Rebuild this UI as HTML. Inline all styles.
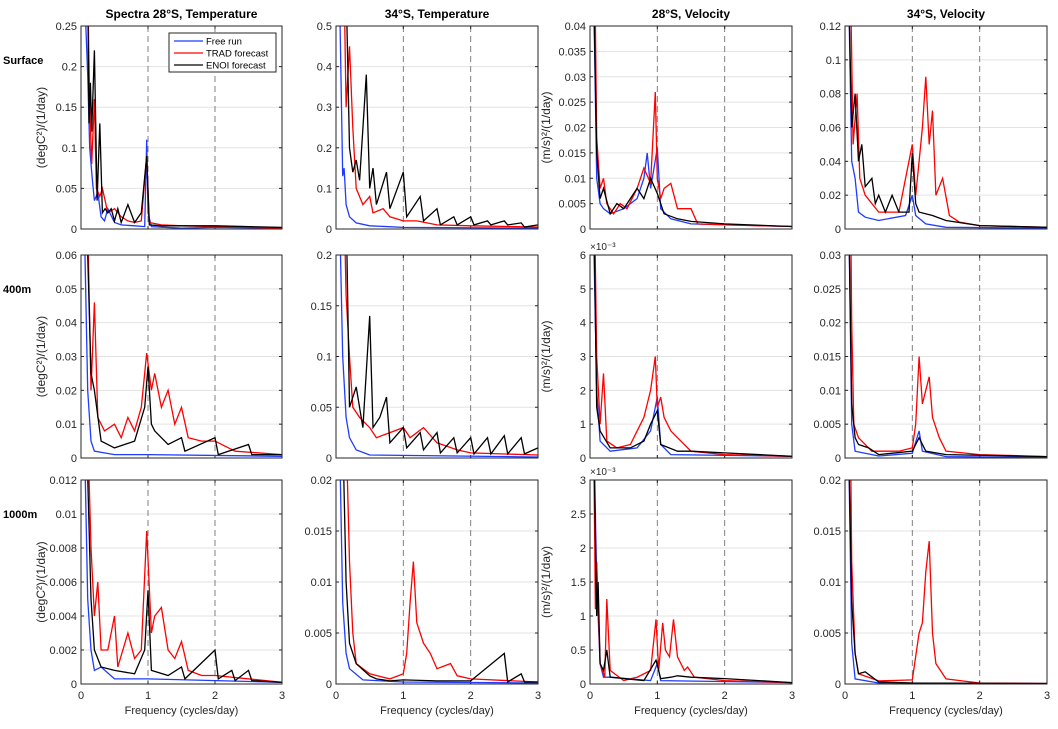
<!DOCTYPE html>
<html><head><meta charset="utf-8"><style>
body{margin:0;background:#fff;width:1058px;height:724px;overflow:hidden}
svg{font-family:"Liberation Sans",sans-serif}
</style></head><body>
<svg id="fig" width="1058" height="724" viewBox="0 0 1058 724" xmlns="http://www.w3.org/2000/svg"></svg>
<script>
// ---- data (frequency, spectral density) pairs per panel ----
const titles=["Spectra 28\u00B0S, Temperature","34\u00B0S, Temperature","28\u00B0S, Velocity","34\u00B0S, Velocity"];
const rowLabels=["Surface","400m","1000m"];
const xTicks=[0,1,2,3];
const yMaxes=[[0.25,0.5,0.04,0.12],[0.06,0.2,0.006,0.03],[0.012,0.02,0.003,0.02]];
const yTickLabels=[
 [["0","0.05","0.1","0.15","0.2","0.25"],["0","0.1","0.2","0.3","0.4","0.5"],["0","0.005","0.01","0.015","0.02","0.025","0.03","0.035","0.04"],["0","0.02","0.04","0.06","0.08","0.1","0.12"]],
 [["0","0.01","0.02","0.03","0.04","0.05","0.06"],["0","0.05","0.1","0.15","0.2"],["0","1","2","3","4","5","6"],["0","0.005","0.01","0.015","0.02","0.025","0.03"]],
 [["0","0.002","0.004","0.006","0.008","0.01","0.012"],["0","0.005","0.01","0.015","0.02"],["0","0.5","1","1.5","2","2.5","3"],["0","0.005","0.01","0.015","0.02"]]
];
const yLabels=["(degC\u00B2)/(1/day)",null,"(m/s)\u00B2/(1/day)",null];
const freeRun=[
 [[[0.05,0.3],[0.1,0.19],[0.13,0.1],[0.17,0.06],[0.2,0.035],[0.25,0.045],[0.3,0.015],[0.35,0.01],[0.4,0.025],[0.5,0.008],[0.6,0.005],[0.8,0.004],[0.95,0.003],[0.98,0.11],[1.0,0.02],[1.05,0.003],[1.5,0.001],[2,0.002],[3,0.001]],
  [[0.05,0.6],[0.1,0.13],[0.12,0.15],[0.15,0.06],[0.2,0.03],[0.3,0.015],[0.5,0.008],[1,0.004],[3,0.002]],
  [[0.05,0.05],[0.1,0.01],[0.15,0.005],[0.2,0.004],[0.3,0.003],[0.5,0.004],[0.7,0.006],[0.8,0.01],[0.85,0.015],[0.9,0.008],[0.95,0.012],[1.0,0.016],[1.05,0.004],[1.2,0.002],[1.5,0.001],[3,0.0005]],
  [[0.05,0.15],[0.1,0.04],[0.15,0.03],[0.2,0.01],[0.3,0.007],[0.5,0.005],[0.9,0.008],[1.0,0.02],[1.05,0.008],[1.2,0.003],[1.5,0.001],[3,0.0005]]],
 [[[0.05,0.07],[0.1,0.02],[0.15,0.005],[0.2,0.002],[0.5,0.001],[1,0.001],[3,0.0005]],
  [[0.05,0.25],[0.1,0.1],[0.15,0.04],[0.2,0.02],[0.3,0.008],[0.5,0.003],[3,0.001]],
  [[0.05,0.007],[0.1,0.002],[0.15,0.0005],[0.3,0.0002],[0.7,0.0003],[0.9,0.0008],[1.0,0.0018],[1.05,0.0004],[1.2,0.0001],[3,0.00005]],
  [[0.05,0.04],[0.1,0.005],[0.15,0.001],[0.5,0.0003],[1.0,0.0007],[1.1,0.004],[1.15,0.001],[1.5,0.0002],[3,0.0001]]],
 [[[0.05,0.015],[0.1,0.005],[0.15,0.002],[0.2,0.0008],[0.3,0.001],[0.5,0.0003],[1,0.0003],[3,0.0001]],
  [[0.05,0.025],[0.1,0.008],[0.15,0.003],[0.2,0.0015],[0.4,0.0004],[1,0.0002],[3,0.0001]],
  [[0.05,0.004],[0.1,0.0015],[0.15,0.0003],[0.2,0.0001],[0.3,0.0001],[0.9,0.00005],[1.0,0.0003],[1.05,0.00005],[3,0.00002]],
  [[0.05,0.025],[0.1,0.004],[0.15,0.0005],[0.5,0.0001],[3,0.00005]]]
];
const tradForecast=[
 [[[0.1,0.3],[0.13,0.15],[0.16,0.08],[0.2,0.16],[0.23,0.05],[0.28,0.04],[0.32,0.05],[0.4,0.02],[0.5,0.025],[0.6,0.015],[0.7,0.01],[0.8,0.008],[0.9,0.01],[0.98,0.09],[1.02,0.008],[1.2,0.005],[1.5,0.004],[2,0.003],[3,0.001]],
  [[0.12,0.6],[0.15,0.3],[0.2,0.45],[0.25,0.25],[0.3,0.1],[0.4,0.06],[0.5,0.08],[0.55,0.04],[0.7,0.05],[0.8,0.03],[1,0.02],[1.2,0.02],[1.5,0.01],[2,0.008],[3,0.005]],
  [[0.08,0.04],[0.1,0.018],[0.15,0.008],[0.2,0.01],[0.25,0.005],[0.35,0.003],[0.45,0.005],[0.55,0.004],[0.7,0.008],[0.8,0.012],[0.9,0.009],[0.97,0.027],[1.0,0.01],[1.05,0.006],[1.1,0.008],[1.2,0.009],[1.3,0.004],[1.5,0.004],[1.6,0.001],[2,0.0008],[3,0.0005]],
  [[0.08,0.15],[0.12,0.05],[0.18,0.08],[0.22,0.03],[0.3,0.02],[0.5,0.01],[0.8,0.01],[1.0,0.05],[1.05,0.02],[1.1,0.04],[1.15,0.06],[1.2,0.09],[1.25,0.05],[1.3,0.07],[1.35,0.02],[1.45,0.03],[1.55,0.008],[1.7,0.004],[2,0.002],[3,0.001]]],
 [[[0.1,0.07],[0.15,0.02],[0.2,0.046],[0.25,0.012],[0.35,0.008],[0.5,0.01],[0.6,0.006],[0.7,0.012],[0.8,0.008],[0.9,0.015],[0.98,0.031],[1.05,0.02],[1.1,0.025],[1.2,0.015],[1.3,0.02],[1.4,0.01],[1.5,0.015],[1.6,0.006],[1.8,0.005],[2,0.005],[2.3,0.002],[3,0.001]],
  [[0.12,0.25],[0.15,0.16],[0.2,0.1],[0.25,0.05],[0.35,0.04],[0.5,0.03],[0.6,0.02],[0.8,0.025],[1.0,0.03],[1.1,0.02],[1.3,0.03],[1.5,0.015],[1.8,0.008],[2,0.005],[3,0.003]],
  [[0.07,0.007],[0.1,0.003],[0.15,0.001],[0.2,0.0025],[0.25,0.0005],[0.4,0.0003],[0.6,0.0004],[0.8,0.0012],[0.9,0.002],[0.97,0.003],[1.0,0.0015],[1.05,0.0018],[1.1,0.0012],[1.2,0.0008],[1.3,0.0006],[1.5,0.0002],[2,0.0001],[3,0.00005]],
  [[0.08,0.04],[0.1,0.02],[0.13,0.005],[0.2,0.003],[0.4,0.001],[0.8,0.001],[1.0,0.0015],[1.05,0.005],[1.1,0.015],[1.15,0.008],[1.2,0.01],[1.25,0.012],[1.3,0.006],[1.4,0.003],[1.5,0.001],[2,0.0005],[3,0.0002]]],
 [[[0.1,0.015],[0.15,0.008],[0.2,0.004],[0.25,0.006],[0.3,0.002],[0.4,0.002],[0.5,0.004],[0.55,0.001],[0.7,0.003],[0.8,0.0015],[0.9,0.002],[0.98,0.009],[1.05,0.003],[1.1,0.004],[1.2,0.0045],[1.3,0.002],[1.4,0.0015],[1.5,0.0025],[1.6,0.0008],[1.8,0.0005],[2,0.0005],[3,0.0001]],
  [[0.15,0.025],[0.2,0.012],[0.25,0.005],[0.3,0.002],[0.5,0.001],[0.8,0.0005],[1.0,0.001],[1.05,0.003],[1.1,0.008],[1.15,0.012],[1.2,0.006],[1.3,0.004],[1.4,0.003],[1.5,0.0015],[1.7,0.002],[1.8,0.0008],[2,0.0005],[3,0.0002]],
  [[0.05,0.004],[0.08,0.0011],[0.1,0.0018],[0.15,0.0003],[0.22,0.0001],[0.25,0.00125],[0.3,0.0002],[0.5,0.00005],[0.7,0.0001],[0.9,0.0002],[0.98,0.00095],[1.02,0.0002],[1.08,0.0009],[1.12,0.0005],[1.18,0.0004],[1.24,0.00095],[1.3,0.0004],[1.4,0.0002],[1.45,0.00025],[1.55,0.0001],[2,0.00005],[3,0.00002]],
  [[0.08,0.025],[0.1,0.012],[0.15,0.003],[0.2,0.001],[0.5,0.0003],[1.0,0.0004],[1.1,0.005],[1.15,0.006],[1.2,0.011],[1.25,0.014],[1.3,0.005],[1.35,0.002],[1.5,0.0005],[2,0.0001],[3,0.00005]]]
];
const enoiForecast=[
 [[[0.1,0.3],[0.12,0.13],[0.14,0.18],[0.16,0.12],[0.2,0.22],[0.24,0.035],[0.28,0.13],[0.32,0.02],[0.36,0.025],[0.4,0.02],[0.45,0.025],[0.5,0.01],[0.55,0.025],[0.6,0.008],[0.7,0.03],[0.8,0.008],[0.9,0.02],[0.98,0.09],[1.02,0.005],[1.2,0.004],[1.5,0.004],[2,0.004],[3,0.002]],
  [[0.15,0.6],[0.2,0.2],[0.25,0.14],[0.3,0.17],[0.35,0.12],[0.45,0.38],[0.5,0.1],[0.55,0.15],[0.6,0.06],[0.75,0.14],[0.8,0.05],[1,0.14],[1.05,0.03],[1.25,0.08],[1.3,0.02],[1.5,0.05],[1.55,0.01],[1.75,0.03],[1.8,0.01],[2,0.03],[2.05,0.01],[2.25,0.02],[2.3,0.01],[2.5,0.02],[2.55,0.01],[2.75,0.015],[2.8,0.005],[3,0.01]],
  [[0.05,0.05],[0.1,0.015],[0.15,0.006],[0.2,0.008],[0.3,0.003],[0.4,0.005],[0.5,0.004],[0.6,0.006],[0.7,0.008],[0.8,0.006],[0.9,0.01],[1.0,0.007],[1.1,0.003],[1.3,0.002],[1.5,0.0015],[2,0.001],[3,0.0005]],
  [[0.05,0.15],[0.1,0.06],[0.15,0.08],[0.2,0.04],[0.25,0.05],[0.3,0.025],[0.4,0.03],[0.45,0.015],[0.5,0.02],[0.6,0.01],[0.7,0.02],[0.8,0.01],[0.95,0.01],[1.0,0.045],[1.05,0.015],[1.1,0.01],[1.3,0.008],[1.5,0.005],[2,0.002],[3,0.001]]],
 [[[0.1,0.06],[0.15,0.025],[0.2,0.02],[0.3,0.005],[0.5,0.003],[0.8,0.005],[0.95,0.015],[1.0,0.027],[1.05,0.01],[1.1,0.008],[1.3,0.004],[1.5,0.006],[1.55,0.002],[2.0,0.006],[2.05,0.001],[2.5,0.004],[2.55,0.001],[3,0.001]],
  [[0.15,0.25],[0.2,0.05],[0.3,0.07],[0.4,0.03],[0.5,0.14],[0.55,0.03],[0.65,0.04],[0.75,0.06],[0.8,0.015],[1.0,0.03],[1.05,0.01],[1.25,0.025],[1.3,0.008],[1.5,0.025],[1.55,0.005],[1.75,0.02],[1.8,0.005],[2.0,0.02],[2.05,0.004],[2.25,0.02],[2.3,0.004],[2.5,0.022],[2.55,0.004],[2.75,0.02],[2.8,0.004],[3,0.01]],
  [[0.06,0.007],[0.1,0.0015],[0.15,0.0008],[0.3,0.0003],[0.6,0.0003],[0.8,0.0005],[0.9,0.001],[1.0,0.0014],[1.05,0.0004],[1.3,0.0002],[1.5,0.0002],[2.0,0.00015],[3,0.00005]],
  [[0.05,0.04],[0.1,0.008],[0.15,0.003],[0.2,0.002],[0.35,0.0015],[0.5,0.0005],[1.0,0.001],[1.1,0.003],[1.2,0.001],[1.5,0.0005],[3,0.0002]]],
 [[[0.08,0.015],[0.15,0.005],[0.2,0.002],[0.3,0.001],[0.5,0.0008],[0.8,0.0006],[0.95,0.002],[1.0,0.0055],[1.05,0.0008],[1.3,0.0005],[1.5,0.001],[1.55,0.0003],[2.0,0.002],[2.05,0.0003],[2.25,0.0008],[2.3,0.0002],[2.5,0.0008],[2.55,0.0002],[3,0.0001]],
  [[0.1,0.025],[0.15,0.01],[0.2,0.004],[0.3,0.002],[0.5,0.0008],[0.6,0.0005],[0.8,0.0003],[1.0,0.0004],[1.5,0.0003],[2.0,0.0003],[2.5,0.003],[2.55,0.0002],[2.75,0.001],[2.8,0.0002],[3,0.0002]],
  [[0.05,0.004],[0.1,0.001],[0.12,0.0015],[0.15,0.0003],[0.2,0.0002],[0.25,0.0005],[0.3,0.0001],[0.8,0.00005],[0.98,0.00035],[1.05,0.00008],[1.2,0.0001],[1.3,0.00012],[1.5,0.0001],[2,0.00008],[3,0.00002]],
  [[0.05,0.025],[0.1,0.008],[0.15,0.003],[0.2,0.001],[0.3,0.0012],[0.5,0.0002],[1.0,0.0001],[3,0.00005]]]
];
const seriesNames=["free-run","trad-forecast","enoi-forecast"];
const seriesColors=["#1f3cff","#ff0000","#000000"];

const NS="http://www.w3.org/2000/svg";
const fig=document.getElementById('fig');
const colX=[[81,282],[336,538],[590,792],[845,1047]];
const rowY=[[26,229],[255,458],[480,684]];
function mk(tag,attrs,parent,text){const e=document.createElementNS(NS,tag);for(const k in attrs)e.setAttribute(k,attrs[k]);if(text!==undefined)e.textContent=text;(parent||fig).appendChild(e);return e;}
const defs=mk('defs',{});
for(let r=0;r<3;r++){
 const g0=mk('text',{x:3,y:rowY[r][0]+38,'font-size':11,'font-weight':'bold',fill:'#000'},fig,rowLabels[r]);
 
 
 for(let c=0;c<4;c++){
  const [x0,x1]=colX[c],[y0,y1]=rowY[r];
  const ymax=yMaxes[r][c];
  const sx=f=>x0+(f/3)*(x1-x0);
  const sy=v=>y1-(v/ymax)*(y1-y0);
  const g=mk('g',{});
  
  
  mk('rect',{x:x0,y:y0,width:x1-x0,height:y1-y0,fill:'#fff'},g);
  const labs=yTickLabels[r][c];const n=labs.length-1;
  labs.forEach((lab,i)=>{
   const val=ymax*i/n,yy=sy(val);
   if(i>0&&i<n)mk('line',{x1:x0,x2:x1,y1:yy,y2:yy,stroke:'#e3e3e3','stroke-width':1},g);
   mk('line',{x1:x0,x2:x0+3,y1:yy,y2:yy,stroke:'#262626'},g);
   mk('line',{x1:x1-3,x2:x1,y1:yy,y2:yy,stroke:'#262626'},g);
   const t=mk('text',{x:x0-4,y:yy+4,'font-size':11,'text-anchor':'end',fill:'#262626'},g,lab);
   
   
  });
  xTicks.forEach(f=>{
   const xx=sx(f);
   if(f===1||f===2)mk('line',{x1:xx,x2:xx,y1:y0,y2:y1,stroke:'#808080','stroke-dasharray':'6,4'},g);
   mk('line',{x1:xx,x2:xx,y1:y1,y2:y1-3,stroke:'#262626'},g);
   mk('line',{x1:xx,x2:xx,y1:y0,y2:y0+3,stroke:'#262626'},g);
   if(r===2){const t=mk('text',{x:xx,y:y1+15,'font-size':11,'text-anchor':'middle',fill:'#262626'},g,String(f));
    
    }
  });
  const cid='clip'+r+c;
  const cp=mk('clipPath',{id:cid},defs);mk('rect',{x:x0,y:y0,width:x1-x0,height:y1-y0},cp);
  [freeRun,tradForecast,enoiForecast].forEach((arr,si)=>{
   const d=arr[r][c].map((p,i)=>(i?'L':'M')+sx(p[0]).toFixed(1)+','+sy(p[1]).toFixed(1)).join('');
   const pl=mk('path',{d:d,fill:'none',stroke:seriesColors[si],'stroke-width':1.3,'clip-path':'url(#'+cid+')'},g);
   
   
  });
  mk('rect',{x:x0,y:y0,width:x1-x0,height:y1-y0,fill:'none',stroke:'#262626','stroke-width':1},g);
  if(r===0){const t=mk('text',{x:(x0+x1)/2,y:18,'font-size':12,'font-weight':'bold','text-anchor':'middle',fill:'#000'},g,titles[c]);
   
   }
  if(r===2){const t=mk('text',{x:(x0+x1)/2,y:y1+30,'font-size':11,'text-anchor':'middle',fill:'#262626'},g,'Frequency (cycles/day)');
   
   }
  if(yLabels[c]){const yc=(y0+y1)/2,xl=c===0?x0-36:x0-40;
   const t=mk('text',{x:xl,y:yc,'font-size':12,'text-anchor':'middle',fill:'#262626',transform:'rotate(-90 '+xl+' '+yc+')'},g,yLabels[c]);
   
   }
  if(c===2&&r>0){const t=mk('text',{x:x0,y:y0-5,'font-size':10,fill:'#262626'},g,'\u00D710\u207B\u00B3');
   
   }
 }
}
// legend
const lg=mk('g',{});


mk('rect',{x:169,y:33,width:107,height:39,fill:'#fff',stroke:'#262626'},lg);
seriesNames.forEach((n,i)=>{
 const yy=41+i*12;
 mk('line',{x1:174,x2:203,y1:yy,y2:yy,stroke:seriesColors[i],'stroke-width':1.3},lg);
 const t=mk('text',{x:206,y:yy+3.5,'font-size':9.5,fill:'#000'},lg,["Free run","TRAD forecast","ENOI forecast"][i]);
 
 
});
</script>
</body></html>
